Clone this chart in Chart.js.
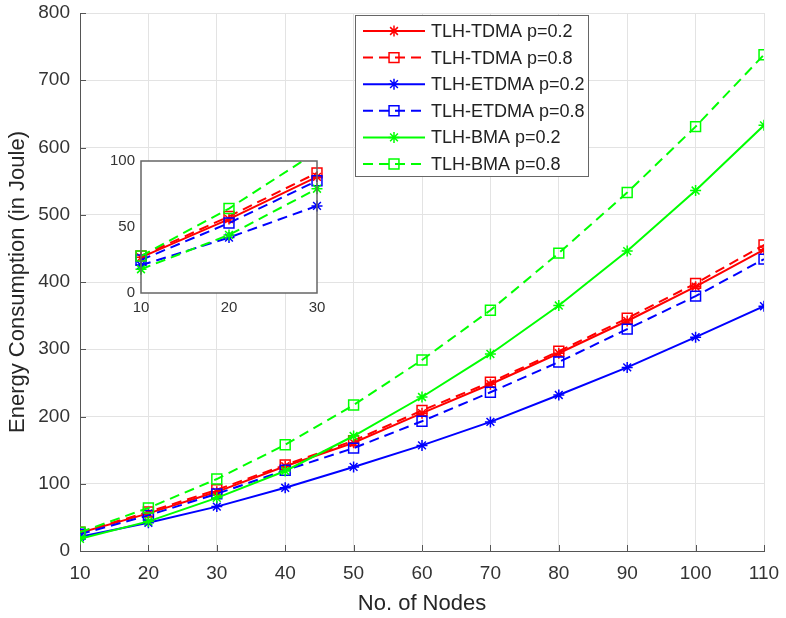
<!DOCTYPE html>
<html>
<head>
<meta charset="utf-8">
<script src="https://cdn.jsdelivr.net/npm/chart.js@4.4.1/dist/chart.umd.min.js"></script>
<style>
  html, body { margin: 0; padding: 0; background: #fff; }
  #wrap { position: relative; width: 786px; height: 618px; }
  #main { position: absolute; left: 0; top: 0; }
  #inset { position: absolute; left: 90px; top: 150px; }
</style>
</head>
<body>
<div id="wrap">
  <canvas id="main" width="786" height="618"></canvas>
  <canvas id="inset" width="240" height="175"></canvas>
</div>
<script>
// values
const nodes = [10, 20, 30, 40, 50, 60, 70, 80, 90, 100, 110]
const tdma02 = [27, 56, 88, 126, 161, 205, 248, 294, 342, 393, 448]
const tdma08 = [28, 58, 91, 128, 164, 209, 251, 297, 346, 398, 455]
const etdma02 = [21, 42, 66, 94, 125, 157, 192, 232, 273, 318, 364]
const etdma08 = [25, 53, 85, 120, 153, 193, 236, 281, 330, 379, 434]
const bma02 = [18, 44, 79, 119, 171, 229, 293, 365, 446, 536, 633]
const bma08 = [28, 64, 107, 158, 217, 284, 358, 443, 533, 631, 738]
const labels = ["TLH-TDMA p=0.2", "TLH-TDMA p=0.8", "TLH-ETDMA p=0.2", "TLH-ETDMA p=0.8", "TLH-BMA p=0.2", "TLH-BMA p=0.8"]
const insetCount = 3 // zoom box shows nodes 10..30

const family = '"Liberation Sans", Arial, sans-serif'
const textColor = "#333"

const series = [
  { values: tdma02, color: "#ff0000", dashed: false, insetDashed: false, marker: "star" },
  { values: tdma08, color: "#ff0000", dashed: true, insetDashed: true, marker: "rect" },
  { values: etdma02, color: "#0000ff", dashed: false, insetDashed: true, marker: "star" },
  { values: etdma08, color: "#0000ff", dashed: true, insetDashed: true, marker: "rect" },
  { values: bma02, color: "#00ff00", dashed: false, insetDashed: true, marker: "star" },
  { values: bma08, color: "#00ff00", dashed: true, insetDashed: true, marker: "rect" }
]
series.forEach((s, i) => { s.label = labels[i] })

const points = ys => nodes.map((x, i) => ({ x, y: ys[i] }))
const radius = m => m === "star" ? 5.5 : 7

function makeDataset(s, i, dashed, data) {
  return {
    label: s.label,
    data,
    borderColor: s.color,
    borderWidth: 2,
    borderDash: dashed ? [10, 6] : [],
    pointStyle: s.marker,
    pointRadius: radius(s.marker),
    pointBorderColor: s.color,
    pointBackgroundColor: "rgba(0,0,0,0)",
    pointBorderWidth: 1.5,
    tension: 0,
    order: 6 - i
  }
}

// let layout padding alone decide where the plot box sits
function fitY(width) {
  return s => { s.width = width; s.paddingTop = 0; s.paddingBottom = 0 }
}
function fitX(height) {
  return s => { s.height = height; s.paddingLeft = 0; s.paddingRight = 0 }
}

const innerTicks = {
  id: "innerTicks",
  afterDatasetsDraw(chart) {
    const { ctx, chartArea: a, scales } = chart
    ctx.save()
    ctx.strokeStyle = "#555"
    ctx.lineWidth = 1
    ctx.beginPath()
    scales.x.ticks.forEach(t => {
      const px = Math.round(scales.x.getPixelForValue(t.value)) + 0.5
      ctx.moveTo(px, a.bottom)
      ctx.lineTo(px, a.bottom - 6)
    })
    scales.y.ticks.forEach(t => {
      const py = Math.round(scales.y.getPixelForValue(t.value)) + 0.5
      ctx.moveTo(a.left, py)
      ctx.lineTo(a.left + 6, py)
    })
    ctx.stroke()
    ctx.restore()
  }
}

const boxLegend = {
  id: "boxLegend",
  afterDraw(chart) {
    const ctx = chart.ctx
    ctx.save()
    ctx.fillStyle = "#fff"
    ctx.fillRect(355, 15, 233, 161)
    ctx.strokeStyle = "#666"
    ctx.lineWidth = 1
    ctx.strokeRect(355.5, 15.5, 233, 161)
    series.forEach((s, i) => {
      const y = 31 + i * 26.6
      ctx.strokeStyle = s.color
      ctx.lineWidth = 2
      ctx.setLineDash(s.dashed ? [10, 6] : [])
      ctx.beginPath()
      ctx.moveTo(363, y)
      ctx.lineTo(425, y)
      ctx.stroke()
      ctx.setLineDash([])
      ctx.lineWidth = 1.5
      ctx.fillStyle = "rgba(0,0,0,0)"
      Chart.helpers.drawPoint(ctx, { pointStyle: s.marker, radius: radius(s.marker), borderWidth: 1.5, rotation: 0 }, 394, y)
      ctx.fillStyle = "#222"
      ctx.font = "18px " + family
      ctx.textBaseline = "middle"
      ctx.textAlign = "left"
      ctx.fillText(s.label, 431, y + 1)
    })
    ctx.restore()
  }
}

new Chart(document.getElementById("main"), {
  type: "line",
  data: { datasets: series.map((s, i) => makeDataset(s, i, s.dashed, points(s.values))) },
  options: {
    responsive: false,
    animation: false,
    layout: { padding: { top: 13, right: 22, left: 0, bottom: 0 } },
    plugins: { legend: { display: false }, tooltip: { enabled: false } },
    scales: {
      x: {
        type: "linear", min: 10, max: 110,
        ticks: { stepSize: 10, color: textColor, font: { family, size: 19 }, padding: 11 },
        grid: { color: "#e3e3e3", drawTicks: false },
        border: { color: "#555", width: 1 },
        title: { display: true, text: "No. of Nodes", color: "#262626", font: { family, size: 22 }, padding: { top: 0, bottom: 1 } },
        afterFit: fitX(67)
      },
      y: {
        min: 0, max: 800,
        ticks: { stepSize: 100, color: textColor, font: { family, size: 19 }, padding: 10 },
        grid: { color: "#e3e3e3", drawTicks: false },
        border: { color: "#555", width: 1 },
        title: { display: true, text: "Energy Consumption (in Joule)", color: "#262626", font: { family, size: 22 }, padding: { top: 5, bottom: 0 } },
        afterFit: fitY(80)
      }
    }
  },
  plugins: [innerTicks, boxLegend]
})

const insetFrame = {
  id: "insetFrame",
  beforeDraw(chart) {
    const { ctx, chartArea: a } = chart
    ctx.save()
    ctx.fillStyle = "#fff"
    ctx.fillRect(a.left, a.top, a.right - a.left, a.bottom - a.top)
    ctx.restore()
  },
  afterDatasetsDraw(chart) {
    const { ctx, chartArea: a } = chart
    ctx.save()
    ctx.strokeStyle = "#666"
    ctx.lineWidth = 1.5
    ctx.strokeRect(a.left, a.top, a.right - a.left, a.bottom - a.top)
    ctx.restore()
  }
}

new Chart(document.getElementById("inset"), {
  type: "line",
  data: {
    datasets: series.map((s, i) => Object.assign(
      makeDataset(s, i, s.insetDashed, points(s.values).slice(0, insetCount)),
      { clip: { left: 10, right: 10, top: 0, bottom: 10 } }
    ))
  },
  options: {
    responsive: false,
    animation: false,
    layout: { padding: { top: 11, right: 13, left: 0, bottom: 0 } },
    plugins: { legend: { display: false }, tooltip: { enabled: false } },
    scales: {
      x: {
        type: "linear", min: 10, max: 30,
        ticks: { stepSize: 10, color: textColor, font: { family, size: 15 }, padding: 6 },
        grid: { display: false, drawTicks: false },
        border: { display: false },
        afterFit: fitX(32)
      },
      y: {
        min: 0, max: 100,
        ticks: { stepSize: 50, color: textColor, font: { family, size: 15 }, padding: 6 },
        grid: { display: false, drawTicks: false },
        border: { display: false },
        afterFit: fitY(51)
      }
    }
  },
  plugins: [insetFrame]
})
</script>
</body>
</html>
